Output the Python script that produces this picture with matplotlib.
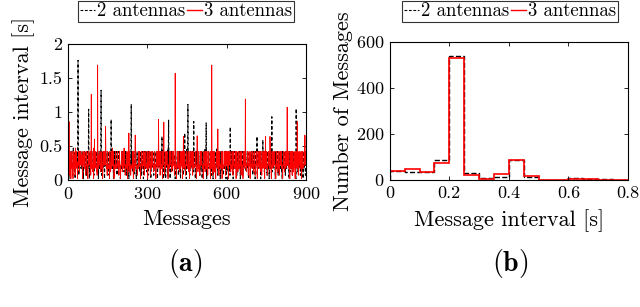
import numpy as np
import matplotlib
matplotlib.use('Agg')
import matplotlib.pyplot as plt

plt.rcParams['font.family'] = 'serif'
plt.rcParams['font.serif'] = ['cmr10']
plt.rcParams['mathtext.fontset'] = 'cm'
plt.rcParams['axes.unicode_minus'] = False
plt.rcParams['axes.formatter.use_mathtext'] = True

# message interval per message, coded by 0.05 s bin (0 -> 0.02 s, 4 -> 0.22 s, 8 -> 0.42 s ...)
code_vals = [0.02, 0.07, 0.12, 0.17, 0.22, 0.27, 0.32, 0.37, 0.42, 0.47]

red_codes = [
    "448443414840443844204483474194484434054484423844845474304844",
    "443484412448443044844744841443844244809444344844241484434744",
    "484424348440348444844448534414844344408442448344944844041443",
    "844443484544148443044484424483449484144434484044844248444134",
    "443484408442448484344414443844484402448443448447144844434448",
    "408443448441448434448442444834440484448434474844144844344084",
    "448441443484448443044438444484442483448444148444340448443484",
    "442484344484408444344844144484443484424048443444844148443444",
    "484430448442448344144844484434404484442484434844144484434408",
    "443484418444248443044844434484144844434484024844344484414844",
    "484434084444844244348441448444348440448444248443448444184434",
    "408444843448442444844134844404484443448442448441344844404484",
    "443484428444148443448440844434484414448444348442044844344484",
    "484430448442448344144844484434404484442484434844144484434408",
    "443484418444248443044844434484144844434484024844344484414844",
]
black_codes = [
    "484438440444844344184434844034844484344441844344844434844304",
    "448443484414484434484044834484443448441484434448344484404484",
    "344844418448443443044484434484414484344484424844344404844484",
    "448441443484448443044438444484442483448444148444340448443484",
    "484424448441348444044844434484424484413448444044844434844284",
    "441484434484408444344844144484443484420448443444844484434148",
    "404438442044834741944844340544844238448454743048444434844124",
    "484430448447448414438442448094443448442414844347444844243484",
    "403484448444485344148443444084424483449448440414438444434845",
    "441484430444844244834494841444344840448442484441344434844084",
    "424484843444144438444844024484434484471448444344484084434484",
    "414484344484424448344404844484344748441448443440844484414434",
    "844484430444384444844424834484441484443404484434844424843444",
    "844084443448441444844434844240484434448441484434444844304484",
    "424483441448444844344044844424844348441444844344084434844184",
]

# isolated long intervals (message index, interval in s)
red_spike_idx = [4, 88, 100, 112, 142, 230, 254, 342, 362, 405, 436, 488, 543, 566, 670, 746, 763, 828, 866, 895]
red_spike_val = [0.86, 1.26, 0.60, 1.69, 0.79, 0.69, 0.66, 0.89, 0.85, 1.57, 0.64, 0.65, 1.69, 0.75, 1.19, 0.64, 0.64, 1.07, 0.86, 0.66]
black_spike_idx = [20, 38, 78, 125, 163, 239, 355, 380, 441, 453, 475, 522, 613, 714, 736, 770, 862]
black_spike_val = [0.47, 1.76, 1.04, 1.32, 0.89, 1.11, 0.64, 0.88, 0.69, 1.11, 0.86, 0.84, 0.78, 0.64, 0.59, 0.93, 1.05]

# histogram of message intervals, 0.05 s bins
bin_edges = [0, 0.05, 0.1, 0.15, 0.2, 0.25, 0.3, 0.35, 0.4, 0.45, 0.5, 0.55, 0.6, 0.65, 0.7, 0.75, 0.8]
hist_black = [38, 35, 33, 88, 537, 30, 10, 15, 85, 15, 1, 2, 7, 5, 3, 2]
hist_red = [40, 47, 33, 73, 532, 22, 5, 25, 88, 18, 1, 2, 5, 4, 2, 2]


def decode(lines, idx, vals):
    s = "".join(lines)
    y = np.array([code_vals[int(c)] for c in s])
    for i, v in zip(idx, vals):
        if i < len(y):
            y[i] = v
    return y


y_red = decode(red_codes, red_spike_idx, red_spike_val)
y_black = decode(black_codes, black_spike_idx, black_spike_val)

fig = plt.figure(figsize=(6.4, 3.07), dpi=100)
ax1 = fig.add_axes([0.1058, 0.4137, 0.3723, 0.443])
ax2 = fig.add_axes([0.609, 0.4137, 0.372, 0.4495])

ax1.plot(np.arange(1, len(y_black) + 1), y_black, color='black', ls='--', dashes=(3, 2), lw=0.8)
ax1.plot(np.arange(1, len(y_red) + 1), y_red, color='red', lw=0.6)
ax1.set_xlim(0, 900)
ax1.set_ylim(0, 2)
ax1.set_xticks([0, 300, 600, 900])
ax1.set_yticks([0, 0.5, 1, 1.5, 2])
ax1.set_yticklabels(['0', '0.5', '1', '1.5', '2'])
ax1.set_xlabel('Messages', fontsize=16, labelpad=6)
ax1.set_ylabel('Message interval [s]', fontsize=16, labelpad=3)

ax2.stairs(hist_black, bin_edges, color='black', ls='--', lw=1.0, label='2 antennas')
ax2.stairs(hist_red, bin_edges, color='red', lw=1.2, label='3 antennas')
ax2.set_xlim(0, 0.8)
ax2.set_ylim(0, 600)
ax2.set_xticks([0, 0.2, 0.4, 0.6, 0.8])
ax2.set_xticklabels(['0', '0.2', '0.4', '0.6', '0.8'])
ax2.set_yticks([0, 200, 400, 600])
ax2.set_xlabel('Message interval [s]', fontsize=16, labelpad=6)
ax2.set_ylabel('Number of Messages', fontsize=16, labelpad=2)

for ax in (ax1, ax2):
    ax.tick_params(direction='in', top=True, right=True, labelsize=13, length=3, width=0.6, pad=4)
    for sp in ax.spines.values():
        sp.set_linewidth(0.8)

h = [plt.Line2D([], [], color='black', ls='--', dashes=(2.5, 1.5), lw=0.8),
     plt.Line2D([], [], color='red', lw=1.0)]
for cx in (186 / 640, 510 / 640):
    fig.legend(h, ['2 antennas', '3 antennas'], loc='center', bbox_to_anchor=(cx, 1 - 11.5 / 307),
               ncol=2, fontsize=13.5, frameon=True, fancybox=False, edgecolor='black',
               handlelength=0.8, handletextpad=0.1, columnspacing=0.1, borderpad=0.1,
               borderaxespad=0).get_frame().set_linewidth(0.8)

fig.text(185 / 640, 1 - 263 / 307, r'$\mathbf{(a)}$', ha='center', va='center', fontsize=20)
fig.text(510 / 640, 1 - 263 / 307, r'$\mathbf{(b)}$', ha='center', va='center', fontsize=20)

fig.savefig('out.png', dpi=100)
